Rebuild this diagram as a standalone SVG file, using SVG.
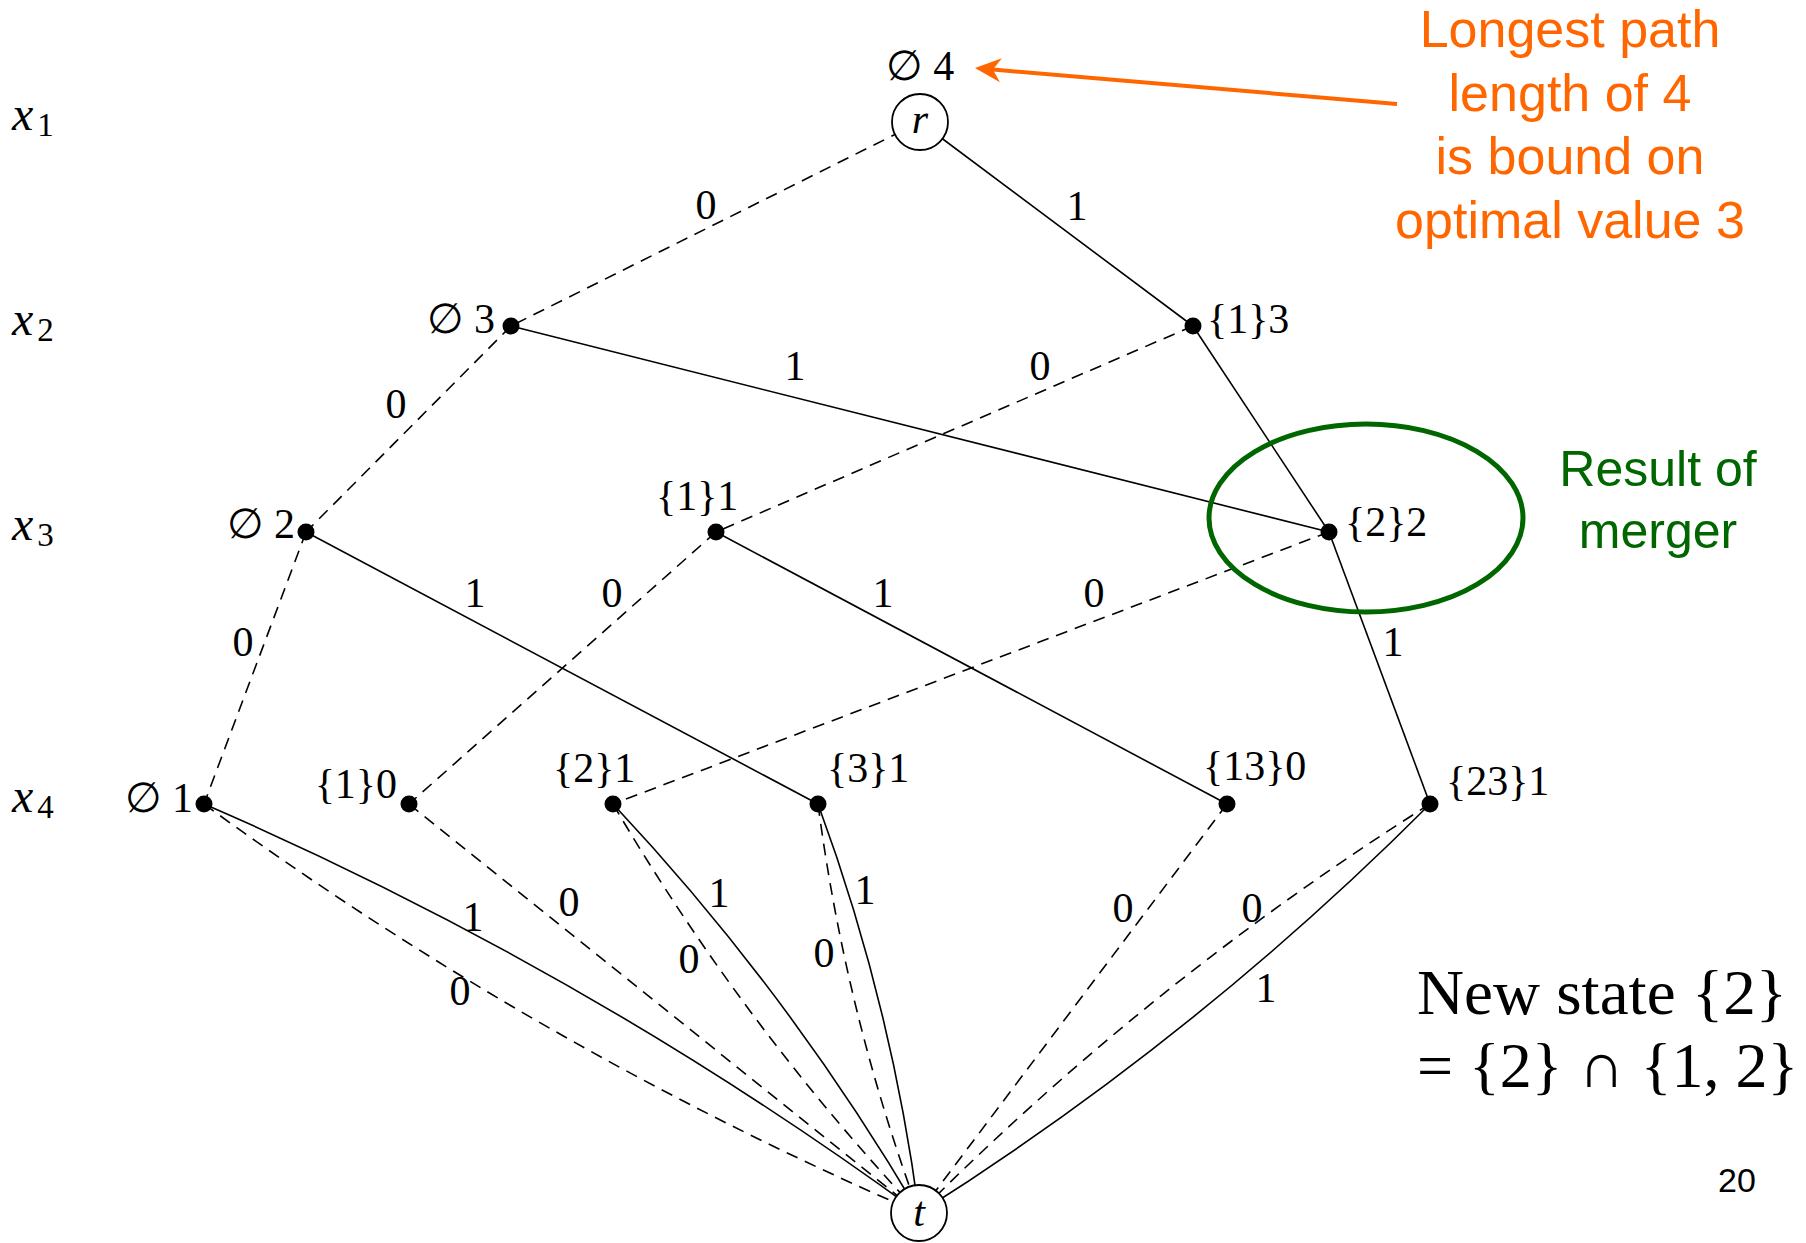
<svg xmlns="http://www.w3.org/2000/svg" width="1806" height="1243" viewBox="0 0 1806 1243">
<style>
.e{fill:none;stroke:#000;stroke-width:1.6}
.d{fill:none;stroke:#000;stroke-width:1.6;stroke-dasharray:12 8}
.dot{fill:#000}
.circ{fill:#fff;stroke:#000;stroke-width:1.8}
.nl{font-family:"Liberation Serif","DejaVu Serif",serif;font-size:42px;fill:#000}
.el{font-family:"Liberation Serif","DejaVu Serif",serif;font-size:42px;fill:#000;text-anchor:middle}
.xl{font-family:"Liberation Serif","DejaVu Serif",serif;font-size:48px;fill:#000}
.sub{font-size:33px;font-style:normal}
.orange{font-family:"Liberation Sans",Arial,sans-serif;font-size:52px;fill:#FF6600;text-anchor:middle}
.green{font-family:"Liberation Sans",Arial,sans-serif;font-size:50px;fill:#006600;text-anchor:middle}
.big{font-family:"Liberation Serif","DejaVu Serif",serif;font-size:64px;fill:#000}
</style>
<rect width="1806" height="1243" fill="#fff"/>

<g id="var-labels">
<text class="xl" x="12" y="130"><tspan font-style="italic">x</tspan><tspan class="sub" dx="4" dy="6">1</tspan></text>
<text class="xl" x="12" y="335"><tspan font-style="italic">x</tspan><tspan class="sub" dx="4" dy="6">2</tspan></text>
<text class="xl" x="12" y="540"><tspan font-style="italic">x</tspan><tspan class="sub" dx="4" dy="6">3</tspan></text>
<text class="xl" x="12" y="812"><tspan font-style="italic">x</tspan><tspan class="sub" dx="4" dy="6">4</tspan></text>
</g>

<g id="connectors">
<path class="d" d="M920,122 L511,326"/>
<path class="e" d="M920,122 L1193,326"/>
<path class="d" d="M511,326 L306,532"/>
<path class="e" d="M511,326 L1329,532"/>
<path class="d" d="M1193,326 L716,532"/>
<path class="e" d="M1193,326 L1329,532"/>
<path class="d" d="M306,532 L204,804"/>
<path class="e" d="M306,532 L818,804"/>
<path class="d" d="M716,532 L409,804"/>
<path class="e" d="M716,532 L1227,804"/>
<path class="d" d="M1329,532 L613,804"/>
<path class="e" d="M1329,532 L1430,804"/>
<path class="e" d="M204,804 Q584.3,968.6 919,1213"/>
<path class="d" d="M204,804 Q538.7,1048.4 919,1213"/>
<path class="d" d="M409,804 L919,1213"/>
<path class="e" d="M613,804 Q788.9,991.4 919,1213"/>
<path class="d" d="M613,804 Q743.1,1025.6 919,1213"/>
<path class="e" d="M818,804 Q891.4,1002.8 919,1213"/>
<path class="d" d="M818,804 Q845.6,1014.2 919,1213"/>
<path class="d" d="M1227,804 L919,1213"/>
<path class="e" d="M1430,804 Q1197.4,1037.2 919,1213"/>
<path class="d" d="M1430,804 Q1151.6,979.8 919,1213"/>
<g id="edge-labels">
<text class="el" x="706" y="219">0</text>
<text class="el" x="1077" y="220">1</text>
<text class="el" x="396" y="418">0</text>
<text class="el" x="795" y="380">1</text>
<text class="el" x="1040" y="380">0</text>
<text class="el" x="243" y="656">0</text>
<text class="el" x="475" y="607">1</text>
<text class="el" x="612" y="607">0</text>
<text class="el" x="883" y="607">1</text>
<text class="el" x="1094" y="607">0</text>
<text class="el" x="1393" y="656">1</text>
<text class="el" x="473" y="931">1</text>
<text class="el" x="460" y="1005">0</text>
<text class="el" x="569" y="916">0</text>
<text class="el" x="719" y="907">1</text>
<text class="el" x="689" y="973">0</text>
<text class="el" x="865" y="904">1</text>
<text class="el" x="824" y="967">0</text>
<text class="el" x="1123" y="922">0</text>
<text class="el" x="1252" y="922">0</text>
<text class="el" x="1266" y="1002">1</text>
</g>
</g>

<g id="node-r"><circle class="circ" cx="920" cy="122" r="28"/><text class="nl" x="920" y="133" text-anchor="middle" font-style="italic">r</text><text class="nl" x="920" y="80" text-anchor="middle">∅ 4</text></g>
<g id="node-e3"><circle class="dot" cx="511" cy="326" r="8.5"/><text class="nl" x="495" y="333" text-anchor="end">∅ 3</text></g>
<g id="node-13"><circle class="dot" cx="1193" cy="326" r="8.5"/><text class="nl" x="1207" y="333">{1}3</text></g>
<g id="node-e2"><circle class="dot" cx="306" cy="532" r="8.5"/><text class="nl" x="295" y="538" text-anchor="end">∅ 2</text></g>
<g id="node-11"><circle class="dot" cx="716" cy="532" r="8.5"/><text class="nl" x="656" y="510">{1}1</text></g>
<g id="node-22"><circle class="dot" cx="1329" cy="532" r="8.5"/><text class="nl" x="1345" y="536">{2}2</text></g>
<g id="node-e1"><circle class="dot" cx="204" cy="804" r="8.5"/><text class="nl" x="193" y="812" text-anchor="end">∅ 1</text></g>
<g id="node-10"><circle class="dot" cx="409" cy="804" r="8.5"/><text class="nl" x="397" y="798" text-anchor="end">{1}0</text></g>
<g id="node-21"><circle class="dot" cx="613" cy="804" r="8.5"/><text class="nl" x="553" y="782">{2}1</text></g>
<g id="node-31"><circle class="dot" cx="818" cy="804" r="8.5"/><text class="nl" x="827" y="782">{3}1</text></g>
<g id="node-130"><circle class="dot" cx="1227" cy="804" r="8.5"/><text class="nl" x="1203" y="780">{13}0</text></g>
<g id="node-231"><circle class="dot" cx="1430" cy="804" r="8.5"/><text class="nl" x="1446" y="795">{23}1</text></g>
<g id="node-t"><circle class="circ" cx="919" cy="1213" r="28"/><text class="nl" x="919" y="1226" text-anchor="middle" font-style="italic">t</text></g>

<g id="annotation-orange">
<path d="M1397,104 L992.9,69.5" fill="none" stroke="#FF6600" stroke-width="4"/>
<polygon points="975,68 1001.9,58.2 992.9,69.5 999.9,82.2" fill="#FF6600"/>
<text class="orange" x="1570" y="47">Longest path</text>
<text class="orange" x="1570" y="111">length of 4</text>
<text class="orange" x="1570" y="174">is bound on</text>
<text class="orange" x="1570" y="238">optimal value 3</text>
</g>

<g id="annotation-green">
<ellipse cx="1366" cy="518" rx="157" ry="94" fill="none" stroke="#006600" stroke-width="5"/>
<text class="green" x="1658" y="486">Result of</text>
<text class="green" x="1658" y="548">merger</text>
</g>

<g id="note">
<text class="big" x="1417" y="1014" textLength="370" lengthAdjust="spacingAndGlyphs">New state {2}</text>
<text class="big" x="1417" y="1087">= {2} ∩ {1, 2}</text>
</g>
<text x="1737" y="1192" font-family="Liberation Sans,Arial,sans-serif" font-size="34" text-anchor="middle" fill="#000">20</text>
</svg>
